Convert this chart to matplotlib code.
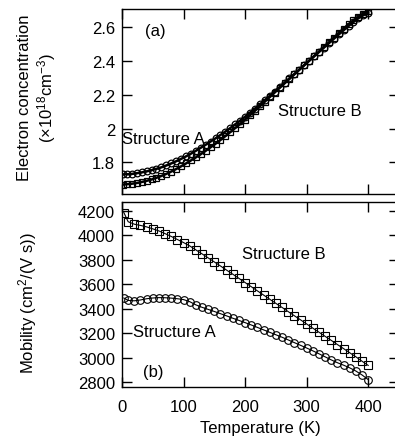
import matplotlib
matplotlib.use("Agg")
import matplotlib.pyplot as plt

plt.rcParams['font.family'] = ['Liberation Sans', 'DejaVu Sans']
plt.rcParams['mathtext.fontset'] = 'custom'
plt.rcParams['mathtext.rm'] = 'Liberation Sans'
plt.rcParams['mathtext.it'] = 'Liberation Sans:italic'

# ---- data ----
T_top = [2, 8, 16, 24, 32, 40, 48, 56, 64, 72, 80, 88, 96, 104, 112, 120, 128, 136,
         144, 152, 160, 168, 176, 184, 192, 200, 208, 216, 224, 232, 240, 248, 256,
         264, 272, 280, 288, 296, 304, 312, 320, 328, 336, 344, 352, 360, 368, 376,
         384, 392, 400]
conc_A = [1.728, 1.729, 1.731, 1.735, 1.740, 1.746, 1.753, 1.761, 1.770, 1.781,
          1.793, 1.806, 1.820, 1.835, 1.851, 1.868, 1.886, 1.904, 1.923, 1.942,
          1.962, 1.982, 2.003, 2.025, 2.047, 2.070, 2.094, 2.118, 2.143, 2.168,
          2.193, 2.219, 2.245, 2.271, 2.297, 2.323, 2.349, 2.375, 2.401, 2.427,
          2.453, 2.479, 2.505, 2.531, 2.557, 2.582, 2.607, 2.631, 2.653, 2.671, 2.686]
conc_B = [1.668, 1.670, 1.673, 1.677, 1.683, 1.690, 1.698, 1.708, 1.719, 1.731,
          1.745, 1.760, 1.776, 1.793, 1.811, 1.829, 1.848, 1.868, 1.889, 1.910,
          1.932, 1.955, 1.979, 2.003, 2.028, 2.053, 2.079, 2.105, 2.132, 2.159,
          2.186, 2.213, 2.240, 2.267, 2.294, 2.321, 2.348, 2.375, 2.402, 2.429,
          2.456, 2.483, 2.510, 2.537, 2.564, 2.591, 2.617, 2.640, 2.662, 2.681, 2.698]

T_bot = [3, 10, 20, 30, 40, 50, 60, 70, 80, 90, 100, 110, 120, 130, 140, 150, 160,
         170, 180, 190, 200, 210, 220, 230, 240, 250, 260, 270, 280, 290, 300, 310,
         320, 330, 340, 350, 360, 370, 380, 390, 400]
mob_A = [3488, 3468, 3465, 3472, 3482, 3488, 3491, 3490, 3487, 3482, 3475, 3458,
         3432, 3412, 3395, 3378, 3360, 3342, 3323, 3305, 3287, 3268, 3248, 3228,
         3208, 3188, 3168, 3146, 3124, 3102, 3080, 3057, 3033, 3008, 2983, 2960,
         2940, 2918, 2892, 2860, 2822]
mob_B = [4185, 4110, 4090, 4080, 4068, 4052, 4035, 4013, 3990, 3965, 3940, 3913,
         3880, 3848, 3815, 3782, 3749, 3715, 3682, 3648, 3614, 3580, 3546, 3512,
         3478, 3444, 3411, 3377, 3343, 3310, 3276, 3242, 3209, 3175, 3142, 3108,
         3075, 3041, 3008, 2972, 2938]

x_ticks = [0, 100, 200, 300, 400]
top_yticks = [1.8, 2.0, 2.2, 2.4, 2.6]
top_yticklabels = ['1.8', '2', '2.2', '2.4', '2.6']
bot_yticks = [2800, 3000, 3200, 3400, 3600, 3800, 4000, 4200]

W, H = 395, 439
fig = plt.figure(figsize=(W / 100, H / 100), dpi=100)

def box(l, t, r, b):
    return [l / W, (H - b) / H, (r - l) / W, (b - t) / H]

ax1 = fig.add_axes(box(122, 10, 399, 195))
ax2 = fig.add_axes(box(122, 203, 399, 388))

fs = 12
for ax in (ax1, ax2):
    ax.set_xlim(0, 450)
    ax.set_xticks(x_ticks)
    ax.tick_params(direction='in', length=7, width=1.0, top=True, right=True,
                   labelsize=fs, colors='black')
    ax.tick_params(axis='y', pad=5)
    ax.tick_params(axis='x', pad=9)
    for s in ax.spines.values():
        s.set_linewidth(1.0)

# top panel
ax1.plot(T_top, conc_A, '-', color='black', lw=1.8, marker='o', ms=4.8,
         mfc='none', mec='black', mew=0.9)
ax1.plot(T_top, conc_B, '-', color='black', lw=1.8, marker='s', ms=4.8,
         mfc='none', mec='black', mew=0.9)
ax1.set_ylim(1.612, 2.708)
ax1.set_yticks(top_yticks)
ax1.set_yticklabels(top_yticklabels)
ax1.tick_params(axis='x', labelbottom=False)
ax1.text(37, 2.578, '(a)', fontsize=fs, ha='left', va='center')
ax1.text(0, 1.938, 'Structure A', fontsize=fs, ha='left', va='center')
ax1.text(253, 2.104, 'Structure B', fontsize=fs, ha='left', va='center')

# bottom panel
ax2.plot(T_bot, mob_A, '-', color='black', lw=0.8, marker='o', ms=5.5,
         mfc='none', mec='black', mew=0.8)
ax2.plot(T_bot, mob_B, '-', color='black', lw=0.8, marker='s', ms=6,
         mfc='none', mec='black', mew=0.8)
ax2.set_ylim(2762, 4271)
ax2.set_yticks(bot_yticks)
ax2.set_xticklabels([str(v) for v in x_ticks])
ax2.text(34, 2892, '(b)', fontsize=fs, ha='left', va='center')
ax2.text(18, 3218, 'Structure A', fontsize=fs, ha='left', va='center')
ax2.text(195, 3847, 'Structure B', fontsize=fs, ha='left', va='center')
ax2.set_xlabel('Temperature (K)', fontsize=fs, labelpad=4)

fig.text(25 / W, 1 - 97.5 / H, 'Electron concentration', rotation=90,
         fontsize=fs, ha='center', va='center')
fig.text(47 / W, 1 - 98.5 / H, '(×10$^{18}$cm$^{-3}$)', rotation=90,
         fontsize=fs, ha='center', va='center')
fig.text(28 / W, 1 - 303 / H, 'Mobility (cm$^{2}$/(V s))', rotation=90,
         fontsize=fs, ha='center', va='center')

fig.savefig('out.png', dpi=100)
